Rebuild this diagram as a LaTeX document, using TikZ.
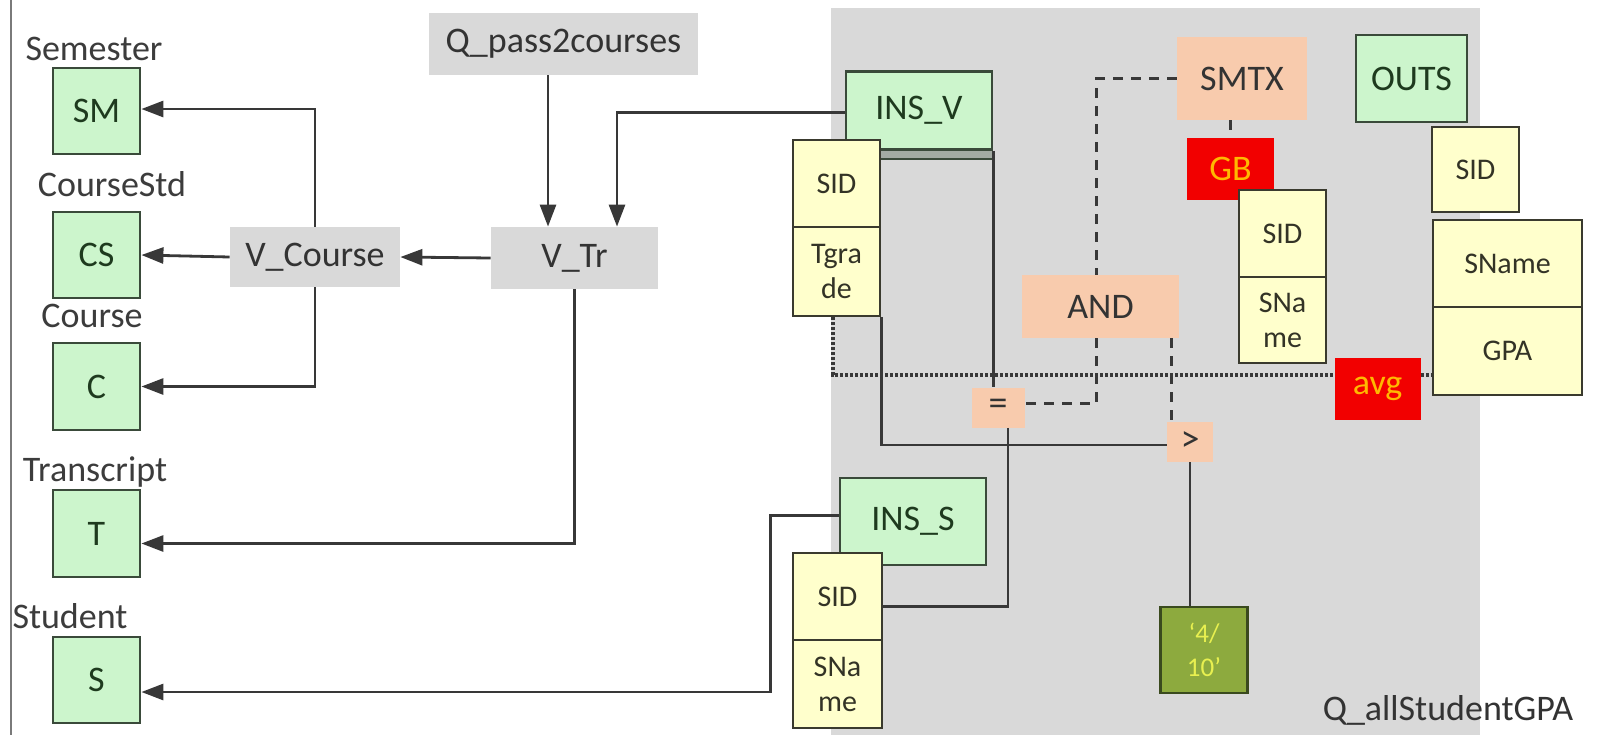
\documentclass[tikz,border=0pt]{standalone}
\usepackage{fontspec}
\setmainfont{Carlito}
\usetikzlibrary{arrows.meta}

\definecolor{grayfill}{HTML}{D9D9D9}
\definecolor{grnfill}{HTML}{CCF5CC}
\definecolor{grnedge}{HTML}{3A4A3A}
\definecolor{grntext}{HTML}{1E3A1E}
\definecolor{attrfill}{HTML}{FFFFCC}
\definecolor{attredge}{HTML}{3A3A2E}
\definecolor{attrtext}{HTML}{333326}
\definecolor{orafill}{HTML}{F8CBAD}
\definecolor{redfill}{HTML}{F20000}
\definecolor{redtext}{HTML}{FFB800}
\definecolor{olivefill}{HTML}{8DAA3E}
\definecolor{oliveedge}{HTML}{3A4A1E}
\definecolor{olivetext}{HTML}{E8F050}
\definecolor{inktext}{HTML}{333333}
\definecolor{lbltext}{HTML}{3C3C3C}
\definecolor{linecol}{HTML}{383838}
\definecolor{framecol}{HTML}{7A7A7A}
\definecolor{shadecol}{HTML}{A3ABA3}

\newcommand\mainsz{\fontsize{18}{21.5}\selectfont}
\newcommand\attrsz{\fontsize{15}{17.5}\selectfont}
\newcommand\litsz{\fontsize{13.5}{17}\selectfont}
\newcommand\opsz{\fontsize{19}{21.5}\selectfont}

\tikzset{
  sz/.style 2 args={minimum width=#1*0.5pt, minimum height=#2*0.5pt},
  boxbase/.style={inner sep=0pt, align=center},
  grn/.style={boxbase, draw=grnedge, line width=1.4pt, fill=grnfill, text=grntext, font=\mainsz},
  attr/.style={boxbase, draw=attredge, line width=1.4pt, fill=attrfill, text=attrtext, font=\attrsz},
  gry/.style={boxbase, fill=grayfill, text=inktext, font=\mainsz},
  ora/.style={boxbase, fill=orafill, text=inktext, font=\mainsz},
  redb/.style={boxbase, fill=redfill, text=redtext, font=\mainsz},
  olv/.style={boxbase, draw=oliveedge, line width=1.4pt, fill=olivefill, text=olivetext, font=\litsz},
  lbl/.style={inner sep=0pt, text=lbltext, font=\mainsz, anchor=base},
  conn/.style={draw=linecol, line width=1.4pt},
  arr/.style={conn, -{Triangle[length=11pt,width=8pt]}},
  dotln/.style={draw=linecol, line width=1.6pt, dash pattern=on 1.4pt off 1.1pt},
  dashln/.style={draw=linecol, line width=1.4pt, dash pattern=on 5pt off 4pt},
}

\begin{document}
\begin{tikzpicture}[x=0.5pt, y=-0.5pt]
  \useasboundingbox (0,0) rectangle (1602,735);
  \fill[white] (0,0) rectangle (1602,735);

  % query area and page edge
  \fill[grayfill] (831,8) rectangle (1480,735);
  \draw[framecol, line width=0.9pt] (11,0) -- (11,735);

  % base tables
  \node[lbl] (lSM) at (94,60) {Semester};
  \node[lbl] (lCS) at (112,196) {CourseStd};
  \node[lbl] (lC)  at (92,327) {Course};
  \node[lbl] (lT)  at (95,481) {Transcript};
  \node[lbl] (lS)  at (70,628) {Student};

  \node[grn, sz={87}{86}] (SM) at (96.5,111) {SM};
  \node[grn, sz={87}{86}] (CS) at (96.5,255) {CS};
  \node[grn, sz={87}{87}] (C)  at (96.5,386.5) {C};
  \node[grn, sz={87}{87}] (T)  at (96.5,533.5) {T};
  \node[grn, sz={87}{86}] (S)  at (96.5,680) {S};

  % views
  \node[gry, sz={269}{62}] (Qp) at (563.5,44) {Q\_pass2courses};
  \node[gry, sz={170}{60}] (VC) at (315,257) {V\_Course};
  \node[gry, sz={167}{62}] (VT) at (574.5,258) {V\_Tr};

  % instances inside the query
  \node[grn, sz={146}{78}] (INSV) at (919,110.5) {INS\_V};
  \node[attr, sz={87}{87}] (INSVa1) at (836.5,183.5) {SID};
  \node[attr, sz={87}{89}] (INSVa2) at (836.5,271.5) {Tgra\\de};
  \fill[shadecol] (INSVa1.east |- INSV.south) rectangle ([yshift=-4pt]INSV.south east);
  \draw[grnedge, line width=1.2pt] ([yshift=-4pt]INSVa1.east |- INSV.south) -- ([yshift=-4pt]INSV.south east);

  \node[grn, sz={146}{87}] (INSS) at (913,521.5) {INS\_S};
  \node[attr, sz={89}{87}] (INSSa1) at (837.5,596.5) {SID};
  \node[attr, sz={89}{88}] (INSSa2) at (837.5,684) {SNa\\me};

  % operators
  \node[ora, sz={53}{40}, font=\opsz] (EQ) at (998,407.5) {=};
  \node[ora, sz={46}{40}, font=\opsz] (GT) at (1190,442) {>};
  \node[ora, sz={130}{83}] (SMTX) at (1242,78.5) {SMTX};
  \node[ora, sz={157}{63}] (AND)  at (1100.5,306.5) {AND};
  \node[redb, sz={87}{62}] (GB)   at (1230.5,169) {GB};
  \node[attr, sz={87}{87}] (GBa1) at (1282.5,233.5) {SID};
  \node[attr, sz={87}{86}] (GBa2) at (1282.5,320) {SNa\\me};
  \node[redb, sz={86}{62}] (AVG)  at (1377.5,389) {avg};
  \node[olv, sz={87}{86}]  (LIT)  at (1204,650) {`4/\\10'};

  % output
  \node[grn, sz={111}{87}]  (OUTS)   at (1411.5,78.5) {OUTS};
  \node[attr, sz={87}{85}]  (OUTSa0) at (1475.5,169.5) {SID};
  \node[attr, sz={149}{87}] (OUTSa1) at (1507.5,263.5) {SName};
  \node[attr, sz={149}{88}] (OUTSa2) at (1507.5,351) {GPA};

  \node[inner sep=0pt, text=inktext, font=\mainsz] (QA) at (1448,710) {Q\_allStudentGPA};

  % view dependencies
  \draw[arr] (VT.west) -- (VC.east);
  \draw[arr] (VC.west) -- (CS.east);
  \draw[arr] (VC.north) |- ([yshift=1pt]SM.east);
  \draw[arr] (VC.south) |- (C.east);
  \draw[arr] ([xshift=-7.75pt]Qp.south) -- ([xshift=-7.75pt]Qp.south |- VT.north);
  \draw[arr] ([yshift=-1pt]INSV.west) -| ([xshift=21.25pt]VT.north);
  \draw[arr] (VT.south) |- ([yshift=-5pt]T.east);
  \draw[arr] ([yshift=3pt]INSS.west) -- ([xshift=-34pt,yshift=3pt]INSS.west) |- ([yshift=-6pt]S.east);

  % joins and conditions
  \draw[conn] (INSV.south east) -- (INSV.south east |- EQ.north);
  \draw[conn] ([xshift=5pt]EQ.south) |- ([yshift=-5pt]INSSa1.east);
  \draw[conn] (INSVa2.south east) |- ([yshift=-1.5pt]GT.west);
  \draw[conn] (GT.south) -- (GT.south |- LIT.north);
  \draw[dotln] ([xshift=-1.75pt]INSVa2.south) |- ([yshift=7pt]AVG.west);
  \draw[dotln] ([yshift=7pt]AVG.east) -- ([yshift=7pt]AVG.east -| OUTSa2.west);
  \draw[dashln] (SMTX.west) -| ([xshift=-2pt]AND.north);
  \draw[dashln] ([xshift=-2pt]AND.south) |- ([yshift=2pt]EQ.east);
  \draw[dashln] ([xshift=35.5pt]AND.south) -- ([xshift=35.5pt]AND.south |- GT.north);
  \draw[dashln] (GB.north |- SMTX.south) -- (GB.north);
\end{tikzpicture}
\end{document}
